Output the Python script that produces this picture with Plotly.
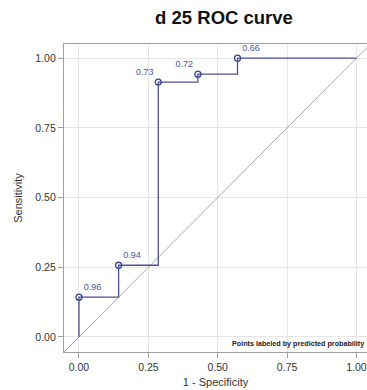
import plotly.graph_objects as go

# ROC curve data (1 - specificity, sensitivity)
fpr = [0.0, 0.0, 1/7, 2/7, 3/7, 4/7, 1.0]
tpr = [0.0, 5/35, 9/35, 32/35, 33/35, 1.0, 1.0]

# labeled points (predicted probability)
lab_fpr = [0.0, 1/7, 2/7, 3/7, 4/7]
lab_tpr = [5/35, 9/35, 32/35, 33/35, 1.0]
lab_text = ["0.96", "0.94", "0.73", "0.72", "0.66"]
lab_pos = ["top right", "top right", "top left", "top left", "top right"]

ticks = [0.0, 0.25, 0.5, 0.75, 1.0]
tick_text = ["0.00", "0.25", "0.50", "0.75", "1.00"]

W, H = 367, 390

line_col = "#4b4f9a"
fig = go.Figure()

fig.add_trace(go.Scatter(x=[-0.2, 1.2], y=[-0.2, 1.2], mode="lines",
                         line=dict(color="#a8a8a8", width=1), hoverinfo="skip",
                         showlegend=False))
fig.add_trace(go.Scatter(x=fpr, y=tpr, mode="lines", line_shape="hv",
                         line=dict(color=line_col, width=1.3), showlegend=False))
fig.add_trace(go.Scatter(x=lab_fpr, y=lab_tpr, mode="markers+text",
                         text=lab_text, textposition=lab_pos,
                         textfont=dict(family="Arial, Liberation Sans", size=9, color="#4a55a0"),
                         marker=dict(symbol="circle-open", size=6, color="#3c4490",
                                     line=dict(width=1.3, color="#3c4490")),
                         showlegend=False))

fig.add_annotation(x=1, y=0, xref="paper", yref="paper", xanchor="right", yanchor="bottom",
                   yshift=2, xshift=-1, showarrow=False,
                   text="<b>Points labeled by predicted probability</b>",
                   font=dict(family="Arial, Liberation Sans", size=7.2, color="#222"))

axis_common = dict(showgrid=True, gridcolor="#e6e6e6", gridwidth=1, zeroline=False,
                   showline=True, linecolor="#a0a0a0", linewidth=1.2, mirror=True,
                   ticks="outside", ticklen=5, tickcolor="#a0a0a0",
                   tickvals=ticks, ticktext=tick_text, automargin=False,
                   tickfont=dict(family="Arial, Liberation Sans", size=10.5, color="#333"))

fig.update_layout(
    width=W, height=H,
    margin=dict(l=64, r=0, t=44, b=38, autoexpand=False),
    paper_bgcolor="white", plot_bgcolor="white",
    title=dict(text="<b>d 25 ROC curve</b>", x=224/W, xanchor="center",
               y=1 - 18/H, yanchor="middle",
               font=dict(family="Arial, Liberation Sans", size=18.5, color="#111")),
    xaxis=dict(range=[-0.054, 1.038], title=dict(text="1 - Specificity", standoff=6,
               font=dict(family="Arial, Liberation Sans", size=11, color="#333")), **axis_common),
    yaxis=dict(range=[-0.054, 1.051], title=dict(text="Sensitivity", standoff=10,
               font=dict(family="Arial, Liberation Sans", size=11, color="#333")), **axis_common),
)

fig.write_html("out.html", config={"displayModeBar": False},
               post_script="document.body.style.margin='0';document.body.style.overflow='hidden';")
